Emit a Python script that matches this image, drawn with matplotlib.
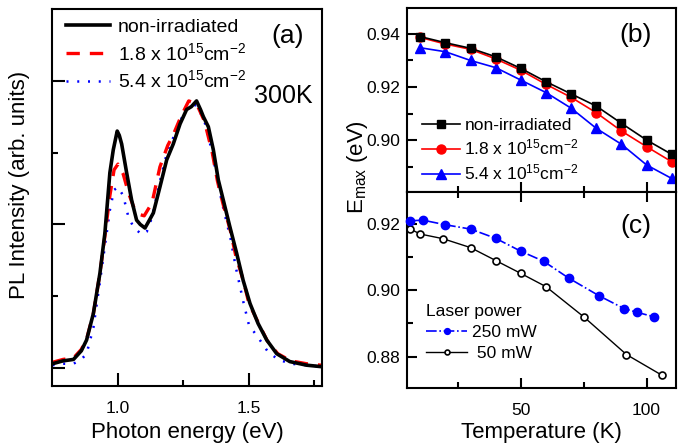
import matplotlib
matplotlib.use("Agg")
import matplotlib.pyplot as plt
from matplotlib.ticker import FixedLocator, NullFormatter

plt.rcParams['font.family'] = ['Liberation Sans', 'DejaVu Sans']
plt.rcParams['mathtext.fontset'] = 'custom'
plt.rcParams['mathtext.rm'] = 'Liberation Sans'
plt.rcParams['mathtext.it'] = 'Liberation Sans'
plt.rcParams['mathtext.default'] = 'regular'

# ---------------- data: panel (a) ----------------
E_black = [0.75, 0.79, 0.83, 0.86, 0.88, 0.906, 0.931, 0.95, 0.969, 0.982, 0.997,
           1.005, 1.014, 1.033, 1.052, 1.071, 1.085, 1.103, 1.12, 1.135, 1.16, 1.186,
           1.211, 1.237, 1.262, 1.28, 1.30, 1.315, 1.326, 1.345, 1.364, 1.383, 1.402,
           1.427, 1.453, 1.478, 1.504, 1.535, 1.568, 1.606, 1.656, 1.72, 1.775]
I_black = [0.03, 0.05, 0.06, 0.12, 0.195, 0.38, 0.66, 0.94, 1.36, 1.52, 1.65,
           1.62, 1.56, 1.36, 1.17, 1.03, 1.00, 0.975, 1.03, 1.08, 1.26, 1.45,
           1.56, 1.70, 1.80, 1.82, 1.86, 1.80, 1.75, 1.68, 1.52, 1.31, 1.17,
           0.985, 0.80, 0.61, 0.45, 0.31, 0.195, 0.10, 0.045, 0.02, 0.01]

E_red = [0.75, 0.79, 0.83, 0.86, 0.88, 0.906, 0.931, 0.95, 0.969, 0.985, 1.0,
         1.02, 1.04, 1.06, 1.08, 1.10, 1.13, 1.16, 1.19, 1.21, 1.24, 1.27, 1.30,
         1.33, 1.36, 1.38, 1.40, 1.43, 1.45, 1.48, 1.50, 1.54, 1.57, 1.61, 1.66,
         1.72, 1.775]
I_red = [0.04, 0.06, 0.07, 0.13, 0.2, 0.38, 0.66, 0.92, 1.2, 1.38, 1.42,
         1.35, 1.22, 1.12, 1.07, 1.06, 1.15, 1.40, 1.55, 1.62, 1.75, 1.86, 1.84,
         1.72, 1.50, 1.30, 1.15, 0.95, 0.78, 0.60, 0.45, 0.30, 0.19, 0.10, 0.05,
         0.03, 0.02]

E_blue = [0.75, 0.79, 0.83, 0.86, 0.88, 0.906, 0.931, 0.95, 0.969, 0.985, 1.0,
          1.02, 1.04, 1.06, 1.09, 1.11, 1.13, 1.16, 1.19, 1.21, 1.24, 1.27, 1.30,
          1.33, 1.36, 1.38, 1.40, 1.43, 1.45, 1.48, 1.50, 1.54, 1.57, 1.61, 1.66,
          1.72, 1.775]
I_blue = [0.02, 0.03, 0.03, 0.06, 0.10, 0.28, 0.6, 0.85, 1.1, 1.24, 1.26,
          1.2, 1.05, 0.98, 0.93, 0.95, 1.05, 1.3, 1.52, 1.6, 1.73, 1.83, 1.83,
          1.72, 1.50, 1.30, 1.13, 0.90, 0.70, 0.45, 0.30, 0.20, 0.12, 0.06, 0.03,
          0.02, 0.01]

labels_a = ['non-irradiated', '1.8 x 10$^{15}$cm$^{-2}$', '5.4 x 10$^{15}$cm$^{-2}$']

# ---------------- data: panel (b) ----------------
T_b = [10, 20, 30, 40, 50, 60, 70, 80, 90, 100, 110]
Emax_non = [0.939, 0.9367, 0.9346, 0.9314, 0.927, 0.922, 0.9174, 0.9128, 0.9063, 0.900, 0.8946]
Emax_18 = [0.9387, 0.9362, 0.9342, 0.9306, 0.9263, 0.921, 0.9161, 0.9103, 0.9034, 0.8975, 0.8918]
Emax_54 = [0.9348, 0.9333, 0.930, 0.9273, 0.9226, 0.9179, 0.912, 0.9044, 0.8984, 0.8906, 0.8855]

# ---------------- data: panel (c) ----------------
T_250 = [6, 11, 20, 30, 40, 50, 59, 69, 81, 91, 96, 103]
Emax_250 = [0.921, 0.9212, 0.9198, 0.9185, 0.9157, 0.9118, 0.9088, 0.9037, 0.8984, 0.8945, 0.8934, 0.892]
T_50 = [6, 10, 19, 30, 40, 50, 60, 75, 92, 106]
Emax_50 = [0.9185, 0.917, 0.9156, 0.9129, 0.909, 0.9051, 0.9011, 0.892, 0.8806, 0.8744]

W, H = 695, 445
fig = plt.figure(figsize=(W / 100, H / 100), dpi=100)

def rect(l, t, r, b):
    return [l / W, 1 - b / H, (r - l) / W, (b - t) / H]

ax_a = fig.add_axes(rect(52, 9, 322, 386))
ax_b = fig.add_axes(rect(407, 8, 676, 192))
ax_c = fig.add_axes(rect(407, 192, 676, 388))

for ax in (ax_a, ax_b, ax_c):
    for s in ax.spines.values():
        s.set_linewidth(1.5)

# ---- panel (a)
ax_a.plot(E_black, I_black, color='black', lw=2.6, label=labels_a[0], zorder=3)
ax_a.plot(E_red, I_red, color='red', lw=2.4, ls=(0, (4, 3)), label=labels_a[1], zorder=2)
ax_a.plot(E_blue, I_blue, color='blue', lw=1.8, ls=(0, (0.8, 3.5)), label=labels_a[2], zorder=1)
ax_a.set_xlim(0.748, 1.779)
ax_a.set_ylim(-0.125, 2.5)
ax_a.xaxis.set_major_locator(FixedLocator([1.0, 1.5]))
ax_a.xaxis.set_minor_locator(FixedLocator([1.25, 1.75]))
ax_a.yaxis.set_major_locator(FixedLocator([0, 1, 2]))
ax_a.yaxis.set_minor_locator(FixedLocator([0.5, 1.5]))
ax_a.yaxis.set_major_formatter(NullFormatter())
ax_a.set_xticklabels(['1.0', '1.5'])
ax_a.tick_params(which='major', direction='in', length=9.5, width=1.5, labelsize=12.5)
ax_a.tick_params(axis='x', which='major', pad=11)
ax_a.tick_params(which='minor', direction='in', length=4.5, width=1.5)
ax_a.set_xlabel('Photon energy (eV)', fontsize=16, labelpad=4)
ax_a.set_ylabel('PL Intensity (arb. units)', fontsize=16)
ax_a.yaxis.set_label_coords(-0.081, 0.533)
ax_a.legend(loc='upper left', bbox_to_anchor=(0.05, 0.975), frameon=False, fontsize=14,
            handlelength=2.3, handletextpad=0.4, labelspacing=0.3, borderpad=0, borderaxespad=0)
fig.text(283 / W, 1 - 96 / H, '300K', fontsize=18, ha='center', va='center')
fig.text(288 / W, 1 - 36 / H, '(a)', fontsize=19, ha='center', va='center')

# ---- panel (b)
ax_b.plot(T_b, Emax_non, color='black', lw=1.2, marker='s', ms=6, label=labels_a[0], zorder=3)
ax_b.plot(T_b, Emax_18, color='red', lw=1.2, marker='o', ms=6.5, label=labels_a[1], zorder=2)
ax_b.plot(T_b, Emax_54, color='blue', lw=1.2, marker='^', ms=7, label=labels_a[2], zorder=1)
ax_b.set_xlim(4.7, 111.7)
ax_b.set_ylim(0.8804, 0.9498)
ax_b.yaxis.set_major_locator(FixedLocator([0.90, 0.92, 0.94]))
ax_b.yaxis.set_minor_locator(FixedLocator([0.89, 0.91, 0.93]))
ax_b.set_yticklabels(['0.90', '0.92', '0.94'])
ax_b.xaxis.set_major_locator(FixedLocator([50, 100]))
ax_b.xaxis.set_minor_locator(FixedLocator([25, 75]))
ax_b.xaxis.set_major_formatter(NullFormatter())
ax_b.tick_params(which='major', direction='in', length=7, width=1.5, labelsize=12.5, pad=5)
ax_b.tick_params(which='minor', direction='in', length=4, width=1.5)
ax_b.legend(loc='upper left', bbox_to_anchor=(0.055, 0.405), frameon=False, fontsize=12.5,
            handlelength=2.2, handletextpad=0.25, labelspacing=0.3, borderpad=0, borderaxespad=0)
fig.text(636 / W, 1 - 35 / H, '(b)', fontsize=19, ha='center', va='center')

# ---- panel (c)
ax_c.plot(T_250, Emax_250, color='blue', lw=1.2, ls='-.', marker='o', ms=6,
          label='250 mW', zorder=3, clip_on=False)
ax_c.plot(T_50, Emax_50, color='black', lw=1.0, marker='o', ms=5, mfc='white', mew=1.2,
          label=' 50 mW', zorder=2, clip_on=False)
ax_c.set_xlim(4.7, 111.7)
ax_c.set_ylim(0.8705, 0.9297)
ax_c.yaxis.set_major_locator(FixedLocator([0.88, 0.90, 0.92]))
ax_c.yaxis.set_minor_locator(FixedLocator([0.89, 0.91]))
ax_c.set_yticklabels(['0.88', '0.90', '0.92'])
ax_c.xaxis.set_major_locator(FixedLocator([50, 100]))
ax_c.xaxis.set_minor_locator(FixedLocator([25, 75]))
ax_c.set_xticklabels(['50', '100'])
ax_c.tick_params(axis='y', which='major', direction='in', length=7, width=1.5, labelsize=12.5, pad=5)
ax_c.tick_params(axis='x', which='major', direction='in', length=7, width=1.5, labelsize=12.5, pad=11)
ax_c.tick_params(which='minor', direction='in', length=4, width=1.5)
ax_c.tick_params(axis='x', which='both', top=True)
ax_c.set_xlabel('Temperature (K)', fontsize=16, labelpad=3)
ax_c.legend(loc='upper left', bbox_to_anchor=(0.07, 0.43), frameon=False, fontsize=12.5,
            title='Laser power', title_fontsize=12.5, alignment='left',
            handlelength=2.4, handletextpad=0.25, labelspacing=0.35, borderpad=0,
            borderaxespad=0, markerscale=0.7)
fig.text(636 / W, 1 - 226 / H, '(c)', fontsize=19, ha='center', va='center')

fig.text(357 / W, 1 - 167 / H, 'E$_{max}$ (eV)', fontsize=16, rotation=90, ha='center', va='center')

fig.savefig('out.png', dpi=100)
